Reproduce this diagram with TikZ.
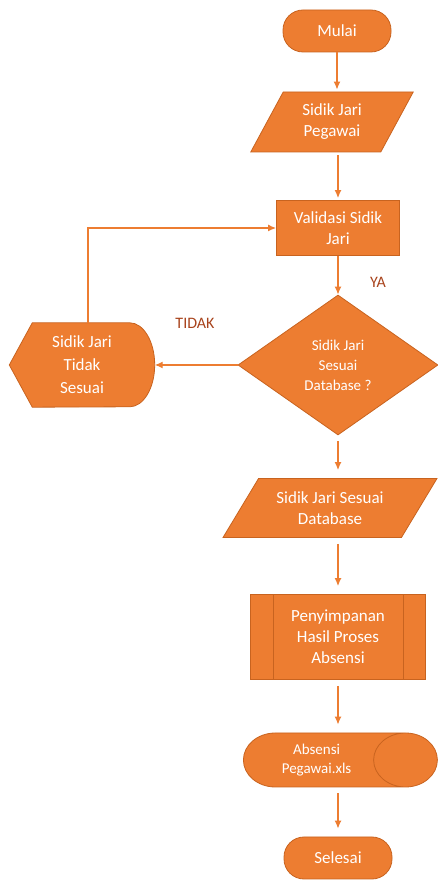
\documentclass[tikz,border=0pt]{standalone}
\usepackage{fontspec}
\setmainfont{Carlito}
\usepackage{tikz}
\usetikzlibrary{shapes.geometric,arrows.meta,backgrounds}
\definecolor{oranye}{HTML}{ED7D31}
\definecolor{garis}{HTML}{C8631F}
\definecolor{label}{HTML}{A8431C}

\begin{document}
\begin{tikzpicture}[x=1pt,y=1pt,
  box/.style={fill=oranye,draw=garis,line width=0.8pt,text=white,align=center,
    font=\fontsize{17}{21}\selectfont},
  terminal/.style={box,rectangle,rounded corners=20pt,minimum width=108pt,minimum height=42pt},
  io/.style={box,trapezium,trapezium stretches=true,inner sep=0pt},
  arr/.style={draw=oranye,line width=1.3pt,-{Latex[length=8pt,width=7pt]}},
  gap/.style={shorten <=6pt,shorten >=8pt},
  ket/.style={text=label,font=\fontsize{16}{18}\selectfont}]
\useasboundingbox (0,0) rectangle (438,880);

% simbol
\node[terminal] (mulai) at (337,849) {Mulai};
\node[io,trapezium left angle=61,trapezium right angle=119,
  minimum width=164pt,minimum height=60pt] (in1) at (332,758) {Sidik Jari\\Pegawai};
\node[box,rectangle,minimum width=123pt,minimum height=55pt] (valid) at (338,652) {Validasi Sidik\\Jari};
\node[box,diamond,aspect=1.45,inner sep=0pt,minimum width=200pt,minimum height=140pt,
  font=\fontsize{15}{20}\selectfont] (cek) at (338,515) {Sidik Jari\\Sesuai\\Database ?};
\node[text=white,align=center,font=\fontsize{17}{23}\selectfont,
  minimum width=145pt,minimum height=84pt] (gagal) at (82,515) {Sidik Jari\\Tidak\\Sesuai};
\node[io,trapezium left angle=51,trapezium right angle=129,
  minimum width=214pt,minimum height=59pt] (in2) at (330,372) {Sidik Jari Sesuai\\Database};
\node[box,rectangle,minimum width=175pt,minimum height=85pt] (simpan) at (338,243)
  {Penyimpanan\\Hasil Proses\\Absensi};
\node[box,cylinder,shape border rotate=0,aspect=1.65,minimum width=54pt,minimum height=194pt,
  anchor=west,font=\fontsize{15}{19}\selectfont] (db) at (243,120) {Absensi\\Pegawai.xls};
\node[terminal] (selesai) at (338,22) {Selesai};

% bentuk display dan garis proses
\begin{scope}[on background layer]
\filldraw[fill=oranye,draw=garis,line width=0.8pt] (gagal.west) -- ([xshift=23pt]gagal.north west)
  -- ([xshift=-25pt]gagal.north east) arc[start angle=90,end angle=-90,x radius=25pt,y radius=42pt]
  -- ([xshift=23pt]gagal.south west) -- cycle;
\end{scope}
\draw[garis,line width=0.8pt] ([xshift=23pt]simpan.north west) -- ([xshift=23pt]simpan.south west);
\draw[garis,line width=0.8pt] ([xshift=-23pt]simpan.north east) -- ([xshift=-23pt]simpan.south east);

% label
\node[ket] (ya) at (378,598) {YA};
\node[ket] (tidak) at (195,557) {TIDAK};

% panah
\draw[arr,shorten >=2pt] (mulai) -- (mulai |- in1.north);
\draw[arr,shorten <=3pt,shorten >=2pt] (in1.south -| valid) -- (valid);
\draw[arr] (valid) -- (cek);
\draw[arr] (cek) -- (gagal);
\draw[arr] ([xshift=6pt]gagal.north) |- (valid);
\draw[arr,gap] (cek) -- (cek |- in2.north);
\draw[arr,gap] (in2.south -| simpan) -- (simpan);
\draw[arr,gap] (simpan) -- (simpan |- db.north);
\draw[arr,gap] (db.south -| selesai) -- (selesai);
\end{tikzpicture}
\end{document}
